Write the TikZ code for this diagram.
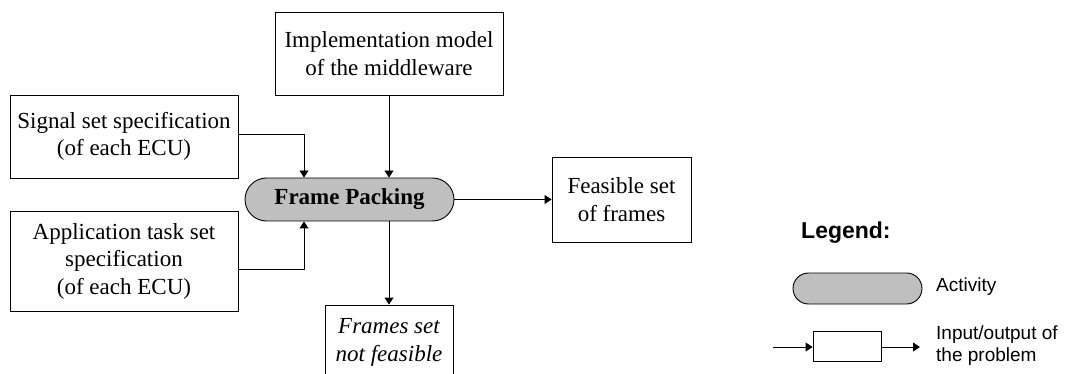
\documentclass[tikz,border=0pt]{standalone}
\usepackage{fontspec}
\setmainfont{Liberation Serif}
\newfontfamily\legfont{Liberation Sans}
\usetikzlibrary{shapes.misc,arrows.meta}
\begin{document}
\begin{tikzpicture}[x=1pt,y=-1pt,
  box/.style={draw=black,line width=0.9pt,fill=white,inner sep=0pt,align=center,
    font=\fontsize{23}{27.5}\selectfont},
  pill/.style={draw=black,line width=0.9pt,fill=gray!50!white!50,rounded rectangle,inner sep=0pt},
  arr/.style={draw=black,line width=0.9pt,-{Triangle[length=7pt,width=9pt]}},
  leg/.style={font=\legfont\fontsize{19}{22}\selectfont,align=left,anchor=west,inner sep=0pt}]
\fill[white] (0,0) rectangle (1084,374);
\useasboundingbox (0,0) rectangle (1084,374);
\clip (0,0) rectangle (1084,374);
\colorlet{pillgray}{black!25}
% main nodes
\node[box,minimum width=228pt,minimum height=83pt] (impl) at (389,53.5) {Implementation model\\of the middleware};
\node[box,minimum width=228pt,minimum height=83pt] (signal) at (124,136.5) {Signal set specification\\(of each ECU)};
\node[box,minimum width=228pt,minimum height=100pt] (app) at (124,261) {Application task set\\specification\\(of each ECU)};
\node[pill,fill=pillgray,minimum width=209pt,minimum height=43pt,font=\fontsize{23}{27.5}\selectfont\bfseries] (fp) at (349.5,199.5) {Frame Packing};
\node[box,minimum width=139pt,minimum height=85pt] (feas) at (621.5,199.5) {Feasible set\\of frames};
\node[box,minimum width=128pt,minimum height=75pt,font=\fontsize{23}{28.5}\selectfont\itshape] (nf) at (389,342.5) {Frames set\\not feasible};
% connectors
\draw[arr] ([yshift=2.5pt]signal.east) -| ([xshift=-45.5pt]fp.north);
\draw[arr] ([yshift=-8pt]app.east) -| ([xshift=-45.5pt]fp.south);
\draw[arr] (impl.south) -- (impl.south |- fp.north);
\draw[arr] (nf.north |- fp.south) -- (nf.north);
\draw[arr] (fp.east) -- (feas.west);
% legend
\node[anchor=west,inner sep=0pt,font=\legfont\fontsize{23}{27}\selectfont\bfseries] (legt) at (801,233) {Legend:};
\node[pill,fill=pillgray,minimum width=129pt,minimum height=31pt] (lpill) at (857.5,288.5) {};
\node[leg] (lact) at (936,287) {Activity};
\node[box,minimum width=68pt,minimum height=30pt] (lbox) at (847,346) {};
\coordinate (lin) at (773,347);
\coordinate (lout) at (920,347);
\draw[arr] (lin) -- (lin -| lbox.west);
\draw[arr] (lout -| lbox.east) -- (lout);
\node[leg] (lio) at (936,346) {Input/output of\\the problem};
\end{tikzpicture}
\end{document}
